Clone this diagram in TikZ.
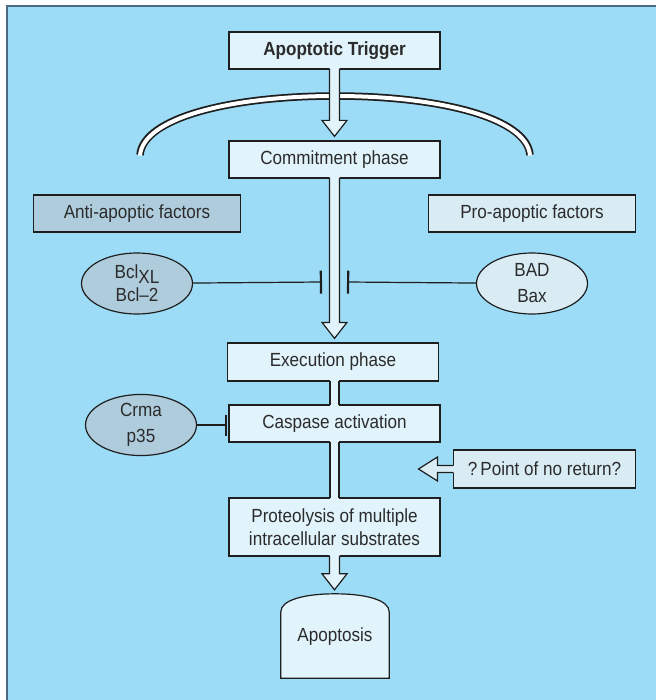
\documentclass[tikz,border=0pt]{standalone}
\usepackage{fontspec}
\setmainfont{Liberation Sans}[FakeStretch=0.9]
\usetikzlibrary{shapes.geometric,arrows.meta,calc}
\definecolor{bg}{HTML}{9CDCF7}
\definecolor{boxfill}{HTML}{E1F3FB}
\definecolor{antifill}{HTML}{AFCCDD}
\definecolor{profill}{HTML}{D9ECF4}
\definecolor{framec}{HTML}{4D6B7F}
\definecolor{ink}{HTML}{2B2B2B}
\definecolor{edge}{HTML}{1E1E1E}
\newcommand\blockdown[2]{%
  \path let \p1=(#1.south), \p2=(#2.north) in
    [fill=boxfill] (\x1-5pt,\y1+2pt) -- (\x1-5pt,\y2+20pt) -- (\x1-12.5pt,\y2+20pt) -- (\x1,\y2+4pt) -- (\x1+12.5pt,\y2+20pt) -- (\x1+5pt,\y2+20pt) -- (\x1+5pt,\y1+2pt) -- cycle;
  \draw[edge,line width=1.2pt,line join=miter] let \p1=(#1.south), \p2=(#2.north) in
    (\x1-5pt,\y1+0.6pt) -- (\x1-5pt,\y2+20pt) -- (\x1-12.5pt,\y2+20pt) -- (\x1,\y2+4pt) -- (\x1+12.5pt,\y2+20pt) -- (\x1+5pt,\y2+20pt) -- (\x1+5pt,\y1+0.6pt);}
\newcommand\pipeline[2]{%
  \fill[boxfill] let \p1=(#1.south), \p2=(#2.north) in (\x2-4.5pt,\y1+2pt) rectangle (\x2+4.5pt,\y2-2pt);
  \draw[edge,line width=1.2pt] let \p1=(#1.south), \p2=(#2.north) in
    (\x2-4.5pt,\y1+0.6pt) -- (\x2-4.5pt,\y2-0.6pt) (\x2+4.5pt,\y1+0.6pt) -- (\x2+4.5pt,\y2-0.6pt);}
\begin{document}
\begin{tikzpicture}[x=1pt,y=-1pt,
  font=\fontsize{19}{22}\selectfont, text=ink,
  box/.style={draw=edge, line width=1.2pt, fill=boxfill, minimum width=211pt, minimum height=37pt, inner sep=0pt, align=center},
  ell/.style={ellipse, draw=edge, line width=1.2pt, minimum width=111pt, minimum height=61pt, inner sep=0pt, align=center},
  inhib/.style={draw=edge, line width=1.2pt, -{Bar[width=23pt,line width=2.2pt]}}]
\useasboundingbox (0,0) rectangle (656,700);
\fill[white] (0,0) rectangle (656,700);
\fill[bg] (6.5,6.5) rectangle (656,700);
\draw[framec, line width=2pt] (6.5,700) -- (6.5,6.5) -- (656,6.5);

% arch
\draw[edge, line width=7.5pt] (140,155) .. controls (143,118) and (230,96) .. (335,96) .. controls (440,96) and (527,118) .. (530,155);
\draw[white, line width=4pt] (140,155.5) .. controls (143,118) and (230,96) .. (335,96) .. controls (440,96) and (527,118) .. (530,155.5);

% nodes
\node[box] (trig) at (334.5,50.5) {\bfseries Apoptotic Trigger};
\node[box] (commit) at (334.5,159.5) {Commitment phase};
\node[box, fill=antifill, minimum width=207pt] (anti) at (137,213.5) {Anti-apoptic factors};
\node[box, fill=profill, minimum width=207pt] (pro) at (532,213.5) {Pro-apoptic factors};
\node[ell, fill=antifill, font=\fontsize{19}{25}\selectfont] (bcl) at (137,283.5) {Bcl\raisebox{-5pt}{XL}\\[-2pt]Bcl–2};
\node[ell, fill=profill, font=\fontsize{19}{25}\selectfont] (bad) at (532,283.5) {BAD\\[1pt]Bax};
\node[box, minimum height=38pt] (exec) at (333,362) {Execution phase};
\node[box] (casp) at (334.5,423.5) {Caspase activation};
\node[ell, fill=antifill, font=\fontsize{19}{25}\selectfont] (crma) at (141,425) {Crma\\[1pt]p35};
\node[box, fill=profill, minimum width=182.5pt, minimum height=38pt] (point) at (544.5,469) {?\,Point of no return?};
\node[box, minimum height=58pt, font=\fontsize{19}{23}\selectfont] (prot) at (334.5,527) {Proteolysis of multiple\\intracellular substrates};
\node[minimum width=108pt, minimum height=84pt, inner sep=0pt] (apop) at (335,636) {};

% apoptosis shape
\draw[edge, line width=1.2pt, fill=boxfill] (apop.south west) -- ($(apop.north west)+(0,-18pt)$)
  .. controls ($(apop.north west)+(0,-6pt)$) and ($(apop.north)+(-30pt,0)$) .. (apop.north)
  .. controls ($(apop.north)+(30pt,0)$) and ($(apop.north east)+(0,-6pt)$) .. ($(apop.north east)+(0,-18pt)$)
  -- (apop.south east) -- cycle;
\node (apoptxt) at ([yshift=-1pt]apop.center) {Apoptosis};

% block arrows and pipes
\blockdown{trig}{commit}
\blockdown{commit}{exec}
\pipeline{exec}{casp}
\pipeline{casp}{prot}
\blockdown{prot}{apop}

% point of no return arrow
\coordinate (tipP) at (418.5,469);
\path let \p1=(point.west), \p2=(tipP) in [fill=profill]
  (\x1+2pt,\y1+3.5pt) -- (\x2+19pt,\y1+3.5pt) -- (\x2+19pt,\y1+12pt) -- (\x2,\y1) -- (\x2+19pt,\y1-12pt) -- (\x2+19pt,\y1-3.5pt) -- (\x1+2pt,\y1-3.5pt) -- cycle;
\draw[edge, line width=1.2pt, line join=miter] let \p1=(point.west), \p2=(tipP) in
  (\x1+0.6pt,\y1+3.5pt) -- (\x2+19pt,\y1+3.5pt) -- (\x2+19pt,\y1+12pt) -- (\x2,\y1) -- (\x2+19pt,\y1-12pt) -- (\x2+19pt,\y1-3.5pt) -- (\x1+0.6pt,\y1-3.5pt);

% inhibition connectors
\coordinate (barL) at (322,282);
\coordinate (barR) at (347,282);
\coordinate (barC) at (227,425);
\draw[inhib] (bcl) -- (barL);
\draw[inhib] (bad) -- (barR);
\draw[inhib, -{Bar[width=21pt,line width=2.2pt]}] (crma) -- (barC);
\end{tikzpicture}
\end{document}
